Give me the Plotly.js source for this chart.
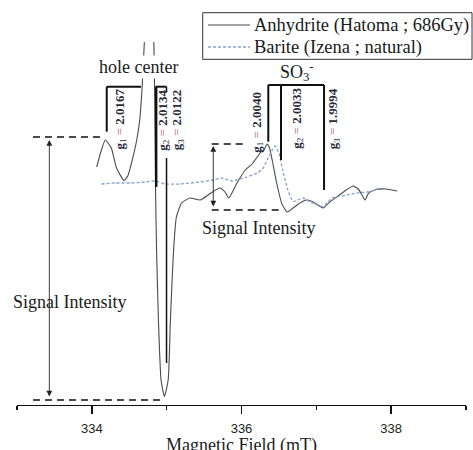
<!DOCTYPE html>
<html>
<head>
<meta charset="utf-8">
<script src="https://cdn.plot.ly/plotly-3.0.1.min.js"></script>
<style>html,body{margin:0;padding:0;background:#fff;}#chart{width:473px;height:450px;}</style>
</head>
<body>
<div id="chart"></div>
<script>
// Magnetic field (mT) and relative ESR signal (arbitrary units)
const fieldAnhydrite = [334.065,334.12,334.18,334.26,334.33,334.43,334.48,334.53,334.60,334.64,334.67,334.685,334.70,334.76,334.83,334.84,334.85,334.865,334.89,334.925,334.97,335.02,335.05,335.09,335.13,335.20,335.31,335.45,335.58,335.71,335.78,335.83,335.94,336.05,336.14,336.22,336.27,336.30,336.34,336.37,336.41,336.47,336.54,336.61,336.69,336.78,336.87,336.96,337.02,337.09,337.18,337.29,337.40,337.49,337.56,337.61,337.65,337.70,337.80,337.93,338.08];
const signalAnhydrite = [238,253,265,257,237,224.5,229,242,265,285,315,337,360,520,360,305,222,155,85,25,8.5,25,85,152,188,202,207,205,211.5,217,213,207,222,235,241,249,254,255,261,258,245,222,201,193,197,202,205,203,200,197,203,209,215,219,216,210,205,212,215.5,216,214];

const fieldBarite = [334.13,334.31,334.51,334.71,334.84,334.98,335.18,335.45,335.62,335.74,335.87,336.07,336.21,336.29,336.35,336.41,336.45,336.50,336.55,336.62,336.69,336.82,336.94,337.09,337.21,337.41,337.54,337.72,337.85];
const signalBarite = [221,222,222,223,224,221,221,223,225,227,224,228,232,237,246,255,259,252,235,215,203.5,207,202,198.5,207,210,212,213.5,217];

const seriesNames = ['Anhydrite (Hatoma ; 686Gy)', 'Barite (Izena ; natural)'];
const seriesColors = ['#4a4a4a', '#85a2d2'];
const seriesDash = ['solid', '3px,2px'];
const tickValues = [334, 336, 338];
const xTitle = 'Magnetic Field (mT)';

const serif = 'Liberation Serif, Times New Roman, serif';
const sans = 'Liberation Sans, Arial, sans-serif';

function gLabel(i, val) {
  return '<b>g</b><sub>' + i + '</sub> <span style="color:#b0607a">=</span> <b>' + val + '</b>';
}

const traces = [
  {x: fieldAnhydrite, y: signalAnhydrite, type: 'scatter', mode: 'lines', name: seriesNames[0], showlegend: false,
   line: {color: seriesColors[0], width: 1.1, shape: 'spline', smoothing: 0.5}},
  {x: fieldBarite, y: signalBarite, type: 'scatter', mode: 'lines', name: seriesNames[1], showlegend: false,
   line: {color: seriesColors[1], width: 1.3, dash: seriesDash[1], shape: 'spline', smoothing: 0.5}}
];

const dashLine = {color: '#111', width: 1.6, dash: '7px,5px'};
const solidLine = {color: '#111', width: 2};
const shapes = [
  // left intensity guides
  {type:'line', xref:'x', yref:'y', x0:333.214, x1:334.176, y0:268, y1:268, line:dashLine},
  {type:'line', xref:'x', yref:'y', x0:333.214, x1:334.978, y0:5, y1:5, line:dashLine},
  // right intensity guides
  {type:'line', xref:'x', yref:'y', x0:335.602, x1:336.034, y0:261, y1:261, line:dashLine},
  {type:'line', xref:'x', yref:'y', x0:335.602, x1:336.501, y0:195, y1:195, line:dashLine},
  // hole center bracket
  {type:'line', xref:'x', yref:'y', x0:334.199, x1:334.657, y0:318.3, y1:318.3, line:solidLine},
  {type:'line', xref:'x', yref:'y', x0:334.851, x1:334.998, y0:318.3, y1:318.3, line:solidLine},
  {type:'line', xref:'x', yref:'y', x0:334.199, x1:334.199, y0:318.3, y1:273.3, line:solidLine},
  {type:'line', xref:'x', yref:'y', x0:334.86, x1:334.86, y0:318.3, y1:218, line:{color:'#111', width:2.4}},
  {type:'line', xref:'x', yref:'y', x0:334.998, x1:334.998, y0:318.3, y1:313, line:{color:'#111', width:1.5}},
  {type:'line', xref:'x', yref:'y', x0:334.998, x1:334.998, y0:247, y1:42, line:{color:'#111', width:1.5}},
  // SO3 bracket
  {type:'line', xref:'x', yref:'y', x0:336.358, x1:337.103, y0:320, y1:320, line:solidLine},
  {type:'line', xref:'x', yref:'y', x0:336.358, x1:336.358, y0:320, y1:263.3, line:solidLine},
  {type:'line', xref:'x', yref:'y', x0:336.528, x1:336.528, y0:320, y1:245, line:solidLine},
  {type:'line', xref:'x', yref:'y', x0:337.103, x1:337.103, y0:320, y1:215, line:solidLine},
  // legend box and samples
  {type:'rect', xref:'paper', yref:'paper', x0:0.4136, x1:1.0134, y0:0.9523, y1:1.0807,
   line:{color:'#333', width:1}, fillcolor:'#fff', layer:'above'},
  {type:'line', xref:'paper', yref:'paper', x0:0.4254, x1:0.5189, y0:1.0468, y1:1.0468,
   line:{color:seriesColors[0], width:1.1, dash:seriesDash[0]}},
  {type:'line', xref:'paper', yref:'paper', x0:0.4254, x1:0.5189, y0:0.9862, y1:0.9862,
   line:{color:seriesColors[1], width:1.3, dash:seriesDash[1]}}
];

const txt = {family: serif, size: 18, color: '#1a1a1a'};
const lab = {family: serif, size: 13, color: '#2a2a3a'};
const legFont = {family: serif, size: 18.5, color: '#1a1a1a'};
const annotations = [
  {x:334.628, y:338, xref:'x', yref:'y', text:'hole center', showarrow:false, font:txt, bgcolor:'#fff', borderpad:1},
  {x:336.738, y:334, xref:'x', yref:'y', text:'SO<sub>3</sub><sup>-</sup>', showarrow:false, font:txt},
  {x:333.708, y:103, xref:'x', yref:'y', text:'Signal Intensity', showarrow:false, font:txt, bgcolor:'#fff', borderpad:4},
  {x:336.24, y:176.7, xref:'x', yref:'y', text:'Signal Intensity', showarrow:false, font:txt},
  // double arrows
  {x:333.432, y:265, ax:333.432, ay:7, xref:'x', yref:'y', axref:'x', ayref:'y', text:'', showarrow:true,
   arrowside:'end+start', arrowhead:2, arrowsize:1.3, arrowwidth:0.9, arrowcolor:'#222'},
  {x:335.623, y:259, ax:335.623, ay:197, xref:'x', yref:'y', axref:'x', ayref:'y', text:'', showarrow:true,
   arrowside:'end+start', arrowhead:2, arrowsize:1.3, arrowwidth:0.9, arrowcolor:'#222'},
  // g-value labels
  {x:334.370, y:286, xref:'x', yref:'y', text:gLabel(1,'2.0167'), textangle:-90, showarrow:false, font:lab},
  {x:334.947, y:285, xref:'x', yref:'y', text:gLabel(2,'2.0134'), textangle:-90, showarrow:false, font:lab},
  {x:335.142, y:285, xref:'x', yref:'y', text:gLabel(3,'2.0122'), textangle:-90, showarrow:false, font:lab},
  {x:336.203, y:283, xref:'x', yref:'y', text:gLabel(1,'2.0040'), textangle:-90, showarrow:false, font:lab},
  {x:336.738, y:287, xref:'x', yref:'y', text:gLabel(2,'2.0033'), textangle:-90, showarrow:false, font:lab},
  {x:337.227, y:286, xref:'x', yref:'y', text:gLabel(3,'1.9994'), textangle:-90, showarrow:false, font:lab},
  // legend texts
  {x:0.5256, y:1.0468, xref:'paper', yref:'paper', xanchor:'left', yanchor:'middle', text:seriesNames[0],
   showarrow:false, font:legFont, borderpad:0},
  {x:0.5256, y:0.9862, xref:'paper', yref:'paper', xanchor:'left', yanchor:'middle', text:seriesNames[1],
   showarrow:false, font:legFont, borderpad:0},
  // x-axis title
  {x:0.5, y:-0.1129, xref:'paper', yref:'paper', xanchor:'center', yanchor:'middle', text:xTitle,
   showarrow:false, font:{family: serif, size: 18, color: '#1a1a1a'}}
];

const layout = {
  width: 473, height: 450,
  margin: {l: 17, r: 7, t: 42, b: 45},
  paper_bgcolor: '#fff', plot_bgcolor: '#fff',
  showlegend: false,
  xaxis: {range: [333, 339], tickvals: tickValues, ticktext: tickValues.map(String),
          showline: true, linecolor: '#111', linewidth: 1.4, mirror: false,
          ticks: 'outside', ticklen: 8, tickwidth: 1.4, tickcolor: '#111',
          minor: {ticks: 'outside', ticklen: 4, tickwidth: 1.4, tickcolor: '#111', dtick: 1, tick0: 333, showgrid: false},
          showgrid: false, zeroline: false, ticklabelstandoff: 3,
          tickfont: {family: sans, size: 13, color: '#222'}},
  yaxis: {range: [0, 363], visible: false, showgrid: false, zeroline: false, fixedrange: true},
  shapes: shapes,
  annotations: annotations
};

Plotly.newPlot('chart', traces, layout, {displayModeBar: false, staticPlot: true});
</script>
</body>
</html>
